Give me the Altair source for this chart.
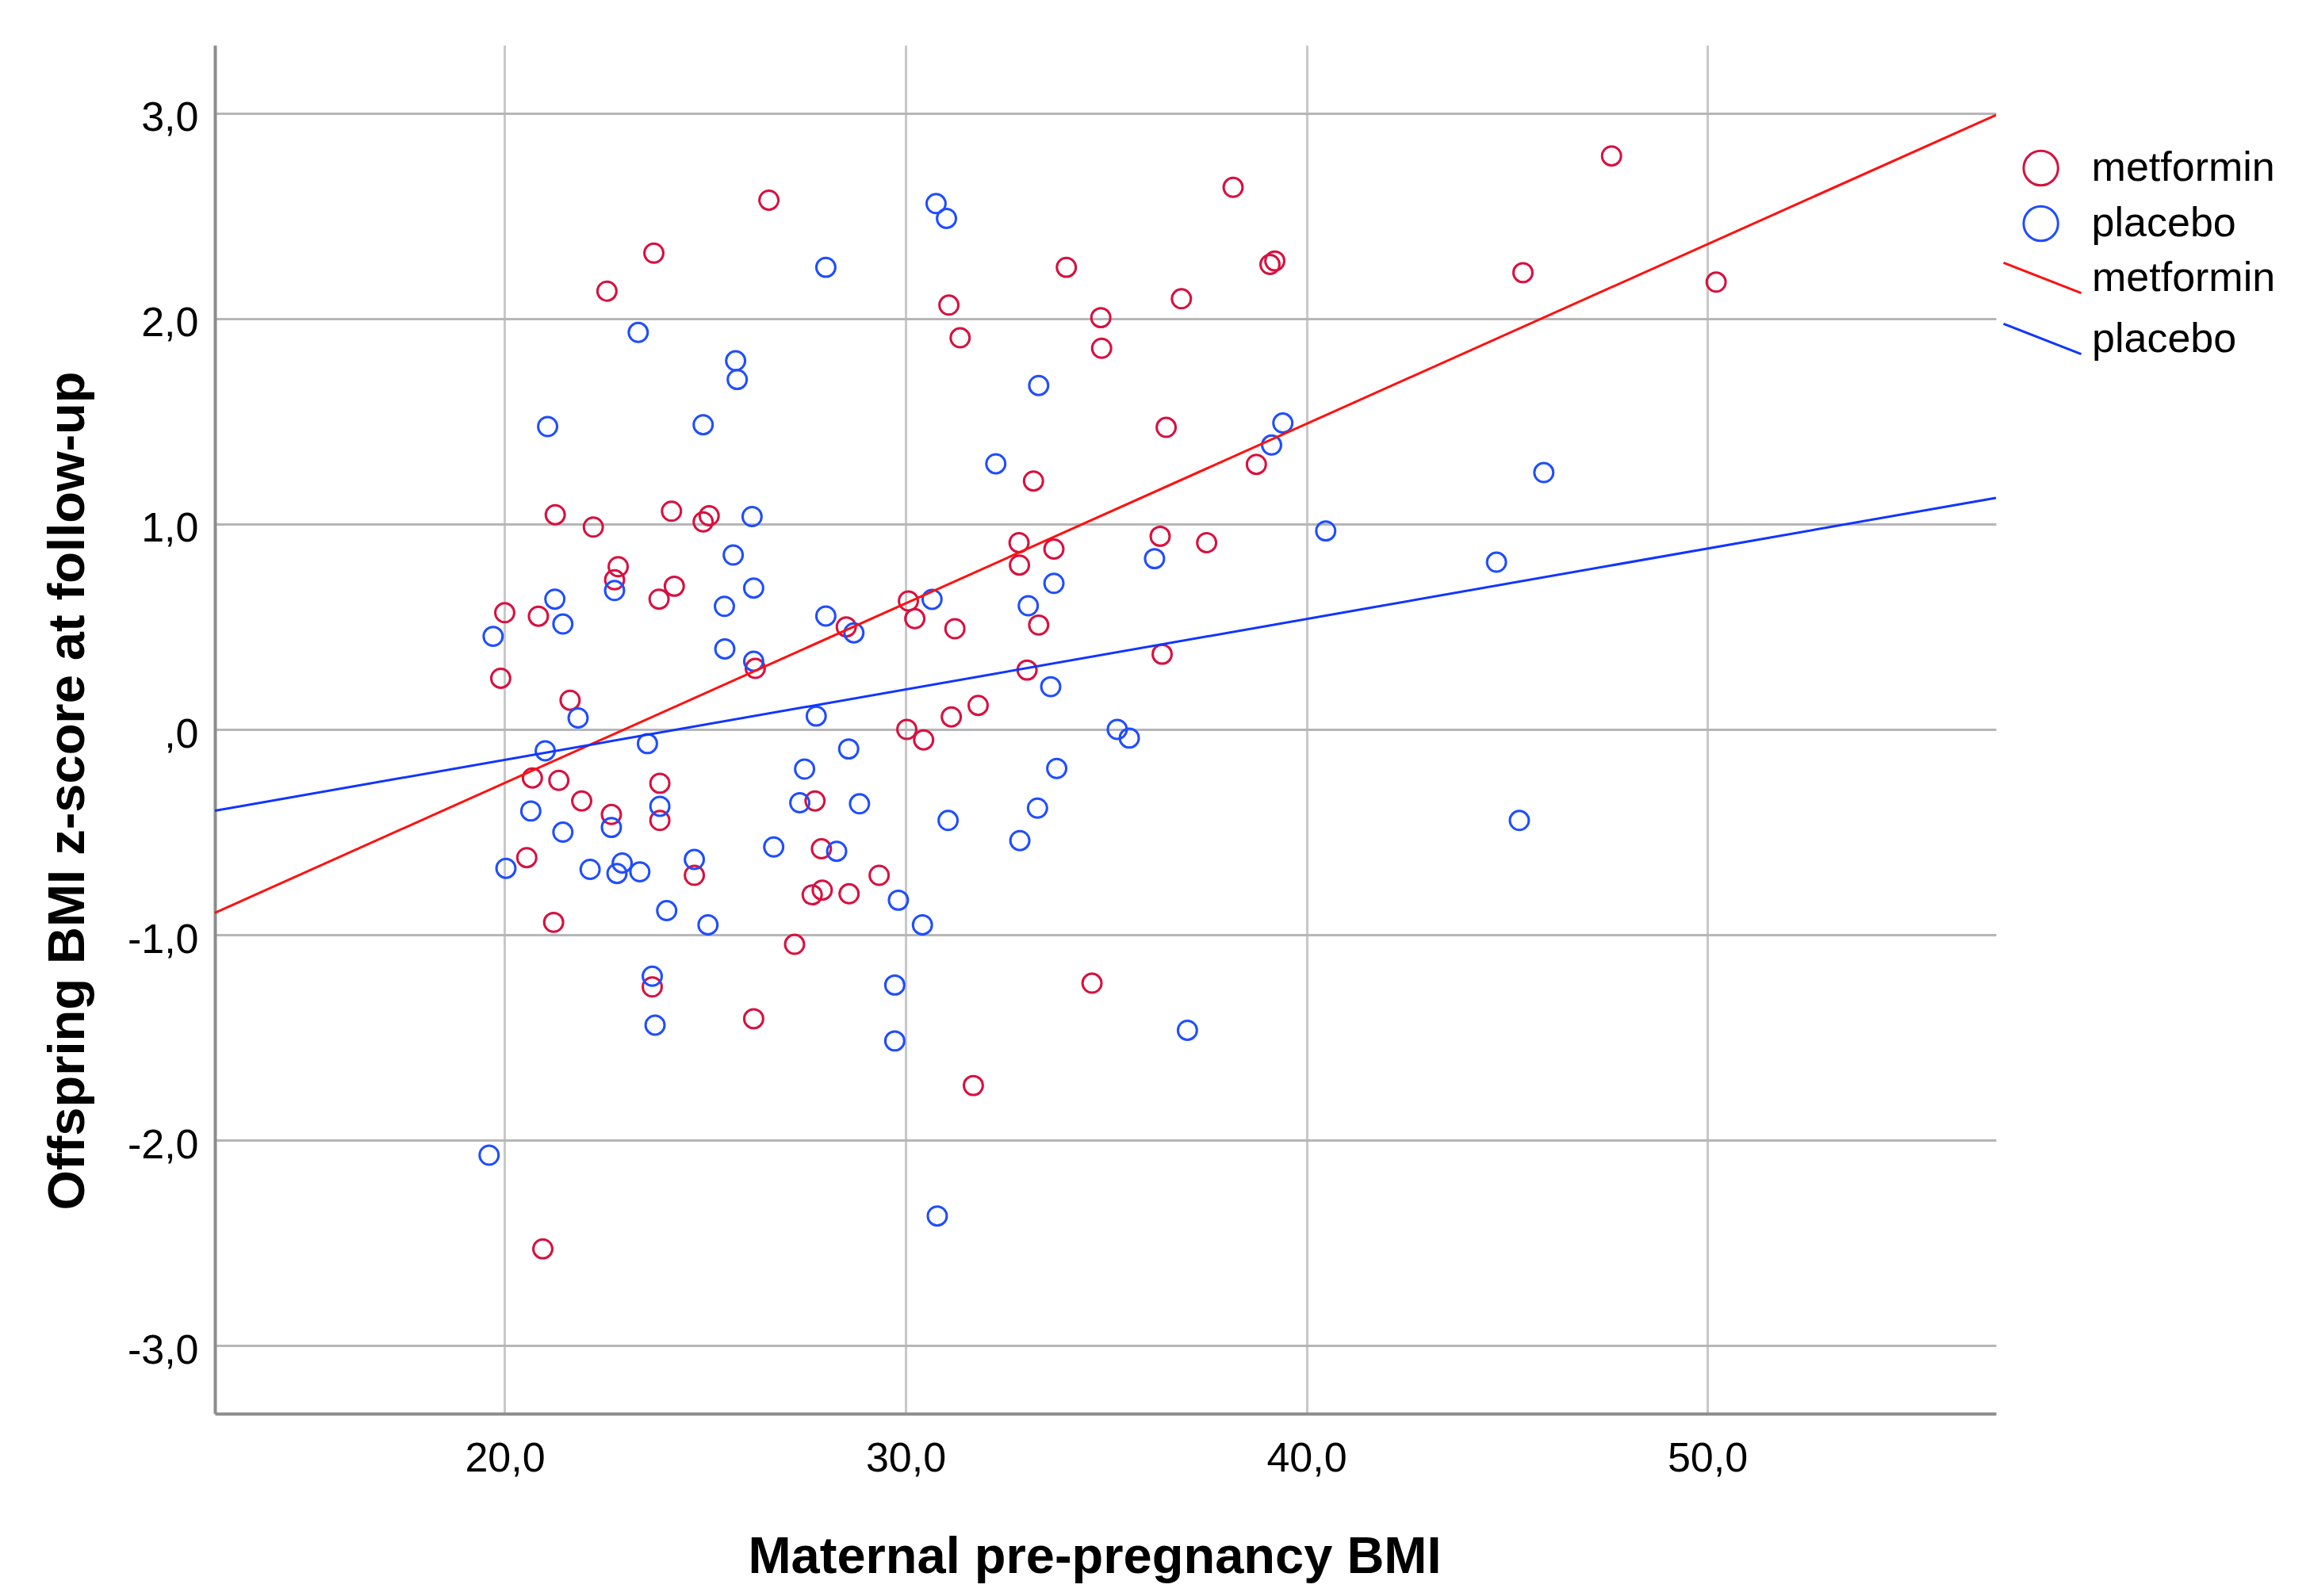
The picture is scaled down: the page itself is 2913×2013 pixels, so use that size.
import altair as alt
import pandas as pd

# ---------------- data ----------------
met_bmi = [26.59, 23.72, 22.55, 21.26, 22.21, 24.16, 24.95, 25.10, 31.08, 31.36,
           34.01, 34.87, 34.89, 38.17, 39.09, 39.21, 36.88, 36.50, 33.19, 38.75,
           47.61, 45.40, 50.22, 22.83, 22.74, 24.23, 23.85, 20.00, 20.84, 26.25,
           19.90, 21.63, 20.69, 21.35, 23.87, 21.92, 23.87, 22.66, 20.55, 24.73,
           21.22, 23.68, 26.21, 32.83, 33.70, 32.84, 36.35, 37.51, 28.52, 30.07,
           30.23, 31.23, 33.32, 36.40, 33.03, 31.81, 31.14, 30.03, 30.45, 27.74,
           27.90, 29.34, 27.67, 27.92, 28.59, 27.23, 34.65, 31.69, 20.95]
met_z = [2.576, 2.318, 2.133, 1.045, 0.985, 1.062, 1.010, 1.040, 2.065, 1.906,
         2.249, 2.004, 1.855, 2.638, 2.263, 2.280, 2.096, 1.470, 1.209, 1.290,
         2.791, 2.223, 2.177, 0.792, 0.728, 0.697, 0.634, 0.568, 0.551, 0.297,
         0.249, 0.142, -0.236, -0.248, -0.262, -0.348, -0.443, -0.414, -0.624, -0.710,
         -0.939, -1.253, -1.408, 0.909, 0.878, 0.800, 0.940, 0.909, 0.499, 0.625,
         0.539, 0.490, 0.508, 0.366, 0.289, 0.117, 0.061, 0.000, -0.051, -0.348,
         -0.581, -0.710, -0.805, -0.782, -0.800, -1.046, -1.235, -1.733, -2.528]

pla_bmi = [23.33, 25.76, 25.80, 21.07, 24.95, 26.17, 28.01, 30.76, 31.02, 33.32,
           32.25, 39.41, 39.13, 40.48, 45.92, 25.70, 22.74, 26.21, 21.25, 21.45,
           19.71, 25.48, 25.49, 26.21, 21.83, 21.01, 23.56, 23.87, 20.65, 22.66,
           21.45, 26.71, 20.03, 22.13, 22.93, 22.80, 23.37, 24.73, 24.04, 25.07,
           23.68, 23.75, 36.21, 44.74, 33.70, 28.01, 28.71, 30.66, 33.06, 33.62,
           27.77, 35.28, 35.58, 28.58, 27.48, 33.77, 27.36, 28.85, 33.29, 31.06,
           32.85, 28.28, 29.82, 30.42, 29.73, 37.03, 29.73, 45.31, 19.61, 30.79]
pla_z = [1.932, 1.794, 1.703, 1.474, 1.483, 1.036, 2.249, 2.559, 2.487, 1.674,
         1.293, 1.491, 1.384, 0.966, 1.250, 0.849, 0.676, 0.688, 0.634, 0.513,
         0.453, 0.599, 0.392, 0.332, 0.056, -0.104, -0.069, -0.374, -0.397, -0.477,
         -0.500, -0.572, -0.676, -0.681, -0.650, -0.701, -0.693, -0.633, -0.882, -0.951,
         -1.201, -1.439, 0.831, 0.814, 0.711, 0.552, 0.470, 0.633, 0.602, 0.208,
         0.065, 0.000, -0.042, -0.095, -0.193, -0.190, -0.357, -0.362, -0.383, -0.443,
         -0.541, -0.593, -0.831, -0.951, -1.244, -1.464, -1.516, -0.443, -2.072, -2.368]

groups = ["metformin", "placebo"]
point_colors = ["#d8103f", "#1f4dff"]
line_colors = ["#ff1010", "#1035ff"]

x_domain = [12.77, 57.2]
y_domain = [-3.33, 3.33]
x_ticks = [20, 30, 40, 50]
x_tick_labels = ["20,0", "30,0", "40,0", "50,0"]
y_ticks = [-3, -2, -1, 0, 1, 2, 3]
y_tick_labels = ["-3,0", "-2,0", "-1,0", ",0", "1,0", "2,0", "3,0"]

x_title = "Maternal pre-pregnancy BMI"
y_title = "Offspring BMI z-score at follow-up"

# ---------------- build table ----------------
df = pd.DataFrame({
    "bmi": met_bmi + pla_bmi,
    "z": met_z + pla_z,
    "group": [groups[0]] * len(met_bmi) + [groups[1]] * len(pla_bmi),
})


def label_expr(values, labels):
    expr = "''"
    for v, l in zip(reversed(values), reversed(labels)):
        expr = f"datum.value == {v} ? '{l}' : ({expr})"
    return expr


FONT = "Liberation Sans, Arial, sans-serif"

x_enc = alt.X(
    "bmi:Q",
    title=x_title,
    scale=alt.Scale(domain=x_domain, nice=False, zero=False),
    axis=alt.Axis(
        values=x_ticks, labelExpr=label_expr(x_ticks, x_tick_labels),
        grid=True, gridColor="#c8c8c8", gridWidth=3,
        ticks=False, tickSize=0,
        domainColor="#8c8c8c", domainWidth=4,
        labelFont=FONT, labelFontSize=52, labelColor="#000000", labelPadding=31,
        labelFlush=False, labelOverlap=False,
        titleFont=FONT, titleFontSize=65, titleFontWeight="bold", titleColor="#000000",
        titleX=1109, titleY=200, titleAlign="center", titleBaseline="alphabetic",
    ),
)
y_enc = alt.Y(
    "z:Q",
    title=y_title,
    scale=alt.Scale(domain=y_domain, nice=False, zero=False),
    axis=alt.Axis(
        values=y_ticks, labelExpr=label_expr(y_ticks, y_tick_labels),
        grid=True, gridColor="#b6b6b6", gridWidth=3,
        ticks=False, tickSize=0,
        domainColor="#8c8c8c", domainWidth=4,
        labelFont=FONT, labelFontSize=52, labelColor="#000000", labelPadding=21,
        labelOffset=6, labelFlush=False, labelOverlap=False,
        titleFont=FONT, titleFontSize=65, titleFontWeight="bold", titleColor="#000000",
        titleAngle=270, titleX=-166, titleY=940, titleAlign="center",
        titleBaseline="alphabetic",
    ),
)

points = alt.Chart(df).mark_point(
    shape="circle", filled=False, size=573, strokeWidth=3, opacity=1
).encode(
    x=x_enc,
    y=y_enc,
    color=alt.Color(
        "group:N",
        scale=alt.Scale(domain=groups, range=point_colors),
        legend=alt.Legend(
            title=None, orient="none", legendX=2276.6, legendY=129, padding=0,
            symbolType="circle", symbolSize=1886, symbolStrokeWidth=3,
            labelFont=FONT, labelFontSize=52, labelColor="#000000", labelLimit=600,
            labelOffset=38, rowPadding=14,
        ),
    ),
)

# fit lines: least-squares regression per group, drawn across the whole x range
lines = alt.Chart(df).transform_regression(
    "bmi", "z", groupby=["group"], extent=x_domain
).transform_calculate(
    fit="datum.group"
).mark_line(strokeWidth=3).encode(
    x=alt.X("bmi:Q"),
    y=alt.Y("z:Q"),
    stroke=alt.Stroke(
        "fit:N",
        scale=alt.Scale(range=line_colors),
        legend=alt.Legend(
            title=None, orient="none", legendX=2254, legendY=243, padding=0,
            symbolType="M-1,-0.39L1,0.39", symbolSize=9604, symbolStrokeWidth=3,
            labelFont=FONT, labelFontSize=52, labelColor="#000000", labelLimit=600,
            labelOffset=12, rowPadding=-17,
        ),
    ),
)

chart = alt.layer(points, lines).properties(
    width=2246,
    height=1726,
    autosize=alt.AutoSizeParams(type="none"),
    padding={"left": 263, "top": 49, "right": 388, "bottom": 215},
).configure_view(strokeWidth=0)

chart.save("out.html", embed_options={"renderer": "svg", "actions": False})
